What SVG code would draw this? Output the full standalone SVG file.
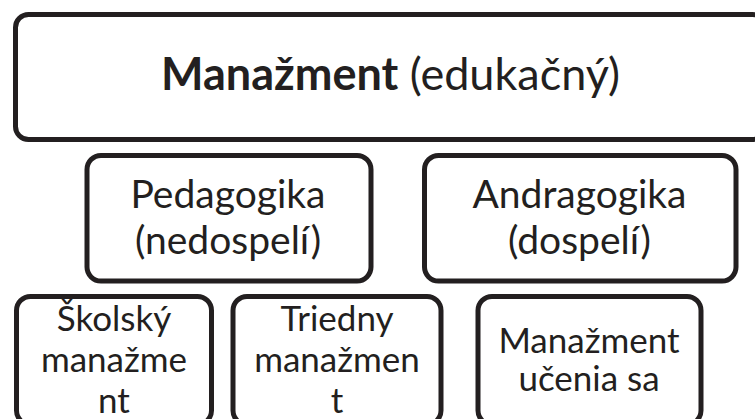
<svg xmlns="http://www.w3.org/2000/svg" width="755" height="419" viewBox="0 0 755 419">
  <style>
    .box { fill: #ffffff; stroke: #231f20; stroke-width: 5; }
    .t { font-family: Lato, "Liberation Sans", sans-serif; fill: #231f20; text-anchor: middle; }
    .big { font-size: 45px; }
    .mid { font-size: 39px; }
    .small { font-size: 35px; }
    .b { font-weight: bold; }
  </style>
  <rect width="755" height="419" fill="#ffffff"/>

  <g id="manazment">
    <rect class="box" x="15.5" y="14.5" width="750" height="125" rx="13"/>
    <text class="t big" x="390.5" y="90"><tspan class="b">Manažment</tspan> (edukačný)</text>
  </g>

  <g id="pedagogika">
    <rect class="box" x="87" y="155.5" width="284" height="125.5" rx="14"/>
    <text class="t mid" x="228" y="208">Pedagogika</text>
    <text class="t mid" x="228" y="254">(nedospelí)</text>
  </g>

  <g id="andragogika">
    <rect class="box" x="424.5" y="155.5" width="311.5" height="125.5" rx="14"/>
    <text class="t mid" x="579.5" y="208">Andragogika</text>
    <text class="t mid" x="579.5" y="254">(dospelí)</text>
  </g>

  <g id="skolsky">
    <rect class="box" x="16.5" y="296.5" width="195" height="128" rx="14"/>
    <text class="t small" x="114" y="331">Školský</text>
    <text class="t small" x="114" y="372">manažme</text>
    <text class="t small" x="114" y="413">nt</text>
  </g>

  <g id="triedny">
    <rect class="box" x="233" y="296.5" width="208" height="128" rx="14"/>
    <text class="t small" x="337" y="331">Triedny</text>
    <text class="t small" x="337" y="372">manažmen</text>
    <text class="t small" x="337" y="413">t</text>
  </g>

  <g id="ucenie">
    <rect class="box" x="478" y="296.5" width="223" height="128" rx="14"/>
    <text class="t small" x="589" y="353">Manažment</text>
    <text class="t small" x="589" y="391">učenia sa</text>
  </g>

  <g id="connectors"></g>
</svg>
